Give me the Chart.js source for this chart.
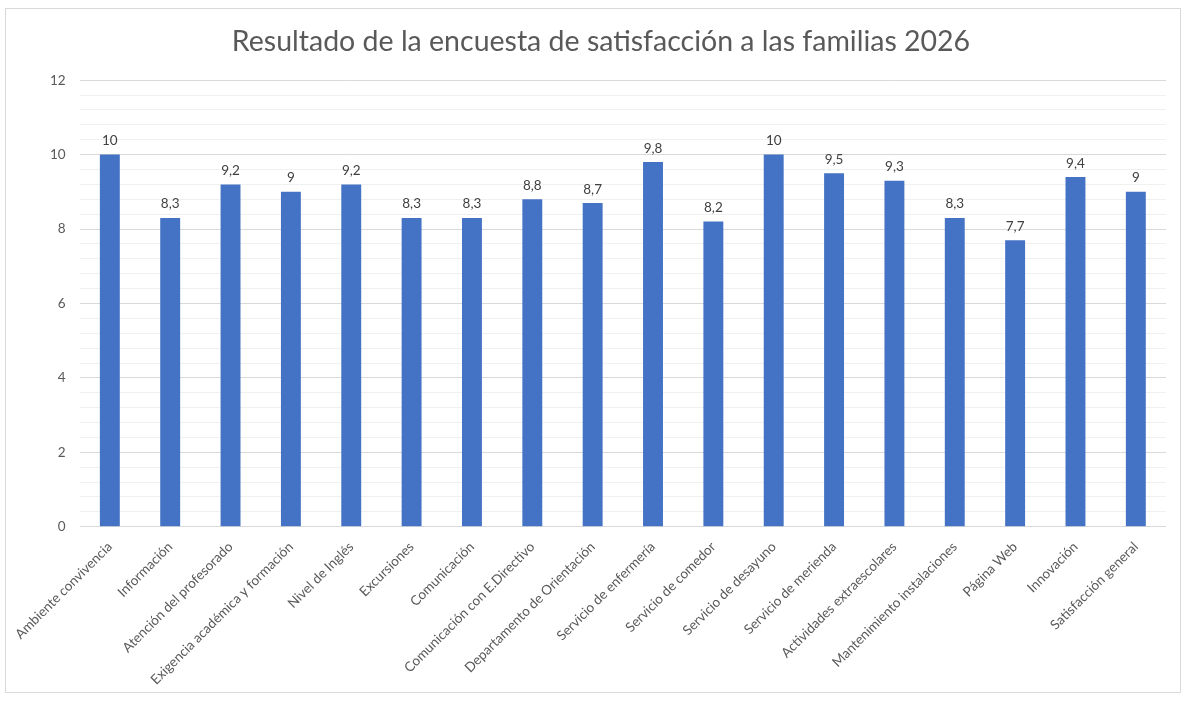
<!DOCTYPE html>
<html>
<head>
<meta charset="utf-8">
<script src="https://cdn.jsdelivr.net/npm/chart.js@4.4.1/dist/chart.umd.min.js"></script>
<style>
html,body{margin:0;padding:0;background:#fff;}
#box{position:absolute;left:5px;top:8px;width:1176px;height:685px;border:1px solid #d9d9d9;box-sizing:border-box;}
canvas{display:block;}
</style>
</head>
<body>
<div id="box"><canvas id="c"></canvas></div>
<script>
const titleText = "Resultado de la encuesta de satisfacción a las familias 2026";
const categories = ["Ambiente convivencia","Información","Atención del profesorado","Exigencia académica y formación","Nivel de Inglés","Excursiones","Comunicación","Comunicación con E.Directivo","Departamento de Orientación","Servicio de enfermería","Servicio de comedor","Servicio de desayuno","Servicio de merienda","Actividades extraescolares","Mantenimiento instalaciones","Página Web","Innovación","Satisfacción general"];
const values = [10, 8.3, 9.2, 9, 9.2, 8.3, 8.3, 8.8, 8.7, 9.8, 8.2, 10, 9.5, 9.3, 8.3, 7.7, 9.4, 9];
const yMin = 0, yMax = 12, yMajor = 2, yMinor = 0.4;

const FONT = "Lato, 'Open Sans', sans-serif";
const isMajor = v => Math.abs(v / yMajor - Math.round(v / yMajor)) < 1e-6;

const labelPlugin = {
  id: 'barLabels',
  afterDatasetsDraw(chart) {
    const ctx = chart.ctx;
    const meta = chart.getDatasetMeta(0);
    ctx.save();
    ctx.font = "13.5px " + FONT;
    ctx.fillStyle = "#404040";
    ctx.textAlign = "center";
    ctx.textBaseline = "bottom";
    meta.data.forEach((bar, i) => {
      const txt = String(values[i]).replace('.', ',');
      ctx.fillText(txt, bar.x, bar.y - 7);
    });
    ctx.restore();
  }
};

new Chart(document.getElementById('c'), {
  type: 'bar',
  data: {
    labels: categories,
    datasets: [{
      data: values,
      backgroundColor: '#4472C4',
      borderWidth: 0,
      barPercentage: 0.66,
      categoryPercentage: 0.5
    }]
  },
  options: {
    responsive: true,
    maintainAspectRatio: false,
    animation: false,
    layout: { padding: { top: 8, right: 14, bottom: 0, left: 30 } },
    plugins: {
      legend: { display: false },
      tooltip: { enabled: false },
      title: {
        display: true,
        text: titleText,
        color: '#595959',
        font: { family: FONT, size: 28.5, weight: 'normal' },
        padding: { top: 8, bottom: 21 }
      }
    },
    scales: {
      x: {
        grid: { display: false },
        border: { display: false },
        ticks: {
          color: '#595959',
          font: { family: FONT, size: 13.5 },
          minRotation: 45,
          maxRotation: 45,
          autoSkip: false,
          padding: 4
        }
      },
      y: {
        min: yMin,
        max: yMax,
        border: { display: false },
        grid: {
          drawTicks: false,
          color: ctx => isMajor(ctx.tick.value) ? '#d9d9d9' : '#f0f0f0',
          lineWidth: 1
        },
        ticks: {
          stepSize: yMinor,
          maxTicksLimit: 100,
          autoSkip: false,
          padding: 14,
          color: '#595959',
          font: { family: FONT, size: 13.5 },
          callback: v => isMajor(v) ? String(Math.round(v)) : ''
        }
      }
    }
  },
  plugins: [labelPlugin]
});
</script>
</body>
</html>
